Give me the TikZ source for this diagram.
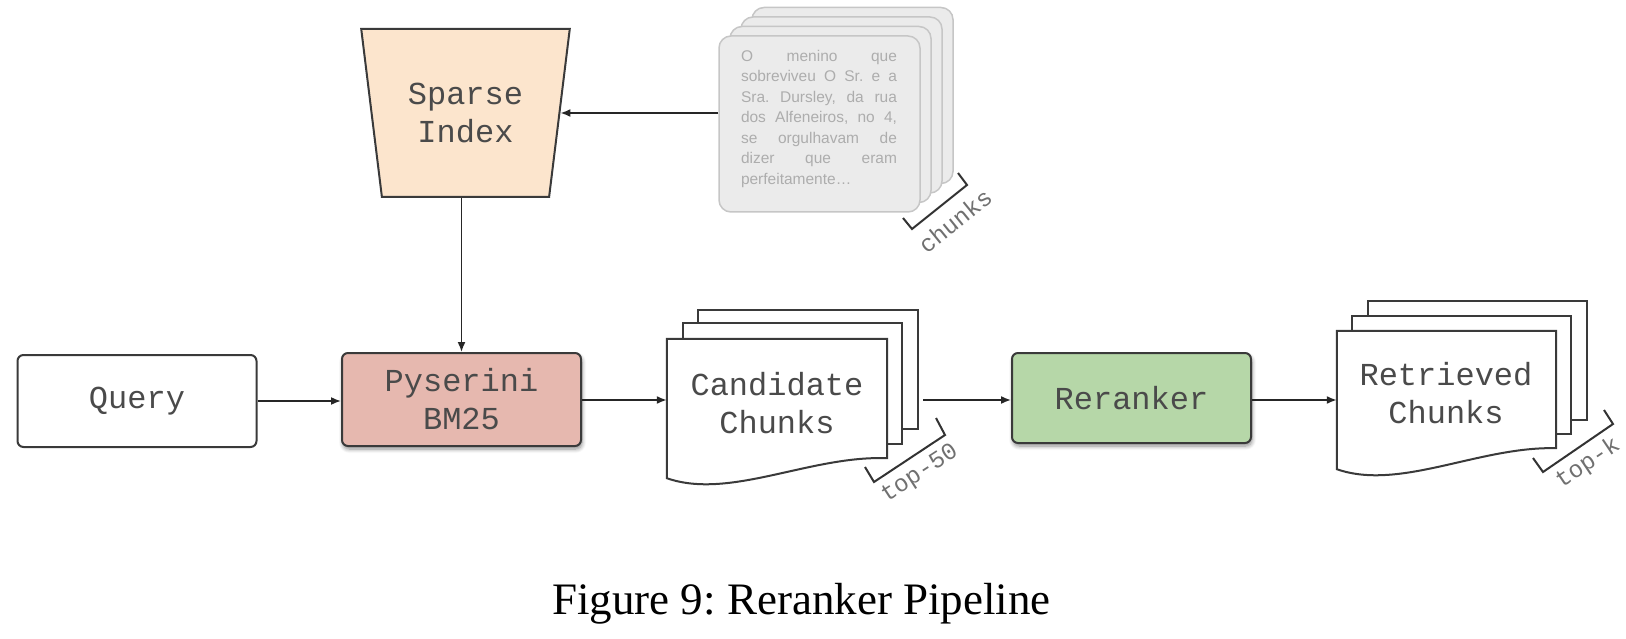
\documentclass[tikz,border=0pt]{standalone}
\usepackage{fontspec}
\setmainfont{Liberation Serif}
\setmonofont{Liberation Mono}
\setsansfont{Liberation Sans}
\usetikzlibrary{shapes.geometric,shadows.blur,arrows.meta}
\definecolor{boxborder}{HTML}{3A3A3A}
\definecolor{txtgray}{HTML}{4A4A4A}
\definecolor{pysfill}{HTML}{E6B8AF}
\definecolor{rrfill}{HTML}{B6D7A8}
\definecolor{spfill}{HTML}{FCE5CD}
\definecolor{cardfill}{HTML}{EBEBEB}
\definecolor{carddraw}{HTML}{C6C6C6}
\definecolor{cardtext}{HTML}{ADADAD}
\definecolor{lblgray}{HTML}{707070}
\newcommand{\jline}[1]{\hbox to 156pt{\spaceskip=4pt plus 1fil\xspaceskip=4pt plus 1fil #1}}
\frenchspacing
\begin{document}
\begin{tikzpicture}[x=1pt,y=-1pt,
  monotext/.style={font=\ttfamily\fontsize{32}{38}\selectfont, text=txtgray, align=center},
  procbox/.style={draw=boxborder, line width=2pt, rounded corners=6pt, minimum width=239pt, inner sep=0pt, monotext},
  shadowed/.style={blur shadow={shadow xshift=1pt, shadow yshift=-3pt, shadow blur steps=6, shadow blur radius=4pt, shadow opacity=45}},
  backcard/.style={draw=boxborder, line width=2pt, fill=white, inner sep=0pt},
  docline/.style={draw=boxborder, line width=2pt, fill=white},
  gcard/.style={draw=carddraw, line width=1.5pt, fill=cardfill, rounded corners=12pt, inner sep=0pt, minimum width=201pt, minimum height=176pt},
  conn/.style={draw=black!85, line width=1.6pt, -{Latex[length=10pt,width=8pt]}},
  brk/.style={draw=black!80, line width=2pt, line join=miter},
  brklabel/.style={font=\ttfamily\fontsize{24}{24}\selectfont, text=lblgray, inner sep=0pt},
]
\useasboundingbox (0,0) rectangle (1626,639);

% Sparse index
\node[trapezium, shape border rotate=180, trapezium stretches=true,
      trapezium left angle=76.6, trapezium right angle=76.6,
      minimum width=209pt, minimum height=168pt, inner sep=0pt,
      draw=boxborder, line width=2pt, fill=spfill, monotext] (sparse) at (465.5,113) {Sparse\\Index};

% Query, Pyserini, Reranker
\node[procbox, minimum height=92pt] (query) at (137,401) {Query};
\node[procbox, minimum height=93pt, fill=pysfill, shadowed] (pys) at (461.5,399.5) {Pyserini\\BM25};
\node[procbox, minimum height=90pt, fill=rrfill, shadowed] (rr) at (1131.5,398) {Reranker};

% Gray chunk cards
\node[gcard] (card4) at (852.5,95.5) {};
\node[gcard] (card3) at (841.5,105) {};
\node[gcard] (card2) at (830.5,114.5) {};
\node[gcard] (card1) at (819.5,124) {};
\node[font=\sffamily\fontsize{15.5}{20.5}\selectfont, text=cardtext, inner sep=0pt] (chunktext) at (819,118.5)
 {\vbox{\baselineskip=20.5pt
  \jline{O menino que}
  \jline{sobreviveu O Sr. e a}
  \jline{Sra. Dursley, da rua}
  \jline{dos Alfeneiros, no 4,}
  \jline{se orgulhavam de}
  \jline{dizer que eram}
  \hbox to 156pt{perfeitamente…\hfil}}};
\draw[brk] (958,173) -- (967,185) -- (912,229) -- (903,218);
\node[brklabel, rotate=39] (lblchunks) at (955,221) {chunks};

% Candidate chunks
\node[backcard, minimum width=220pt, minimum height=119pt] (cand3) at (808,369.5) {};
\node[backcard, minimum width=219pt, minimum height=121pt] (cand2) at (792.5,383.5) {};
\node[minimum width=220pt, minimum height=139pt, inner sep=0pt] (cand) at (777,408.5) {};
\draw[docline] (cand.north west) -- (cand.north east) -- ([shift={(0,-20)}]cand.south east)
  .. controls ([shift={(-77,-23)}]cand.south east) and ([shift={(63,22)}]cand.south west) .. (cand.south west) -- cycle;
\node[monotext, inner sep=0pt] (candtxt) at (777,403.5) {Candidate\\Chunks};
\draw[brk] (936,418) -- (945,435) -- (874,482) -- (865,467);
\node[brklabel, rotate=33] (lbltop50) at (920,474) {top-50};

% Retrieved chunks
\node[backcard, minimum width=219pt, minimum height=119pt] (ret3) at (1477.5,360.5) {};
\node[backcard, minimum width=219pt, minimum height=118pt] (ret2) at (1461.5,375) {};
\node[minimum width=219pt, minimum height=138pt, inner sep=0pt] (ret) at (1446.5,400) {};
\draw[docline] (ret.north west) -- (ret.north east) -- ([shift={(0,-21)}]ret.south east)
  .. controls ([shift={(-77,-23)}]ret.south east) and ([shift={(63,22)}]ret.south west) .. (ret.south west) -- cycle;
\node[monotext, inner sep=0pt] (rettxt) at (1446,393.5) {Retrieved\\Chunks};
\draw[brk] (1604,410) -- (1613,424) -- (1543,472) -- (1533,458);
\node[brklabel, rotate=34] (lbltopk) at (1588,463) {top-k};

% Connectors
\draw[conn] (card1.west |- sparse.east) -- (sparse.east);
\draw[conn] (sparse.south) ++(-4,0) coordinate (spbot) -- (spbot |- pys.north);
\draw[conn] (query.east) -- (query.east -| pys.west);
\draw[conn] (pys.east) ++(0,0.5) coordinate (pysout) -- (pysout -| cand.west);
\draw[conn] (cand3.east |- rr.west) ++(4,2) coordinate (candout) -- (candout -| rr.west);
\draw[conn] (rr.east) ++(0,2) coordinate (rrout) -- (rrout -| ret.west);

% Caption
\node[font=\fontsize{45}{54}\selectfont, anchor=base, inner sep=0pt] (caption) at (801.5,614) {Figure 9: Reranker Pipeline};
\end{tikzpicture}
\end{document}
